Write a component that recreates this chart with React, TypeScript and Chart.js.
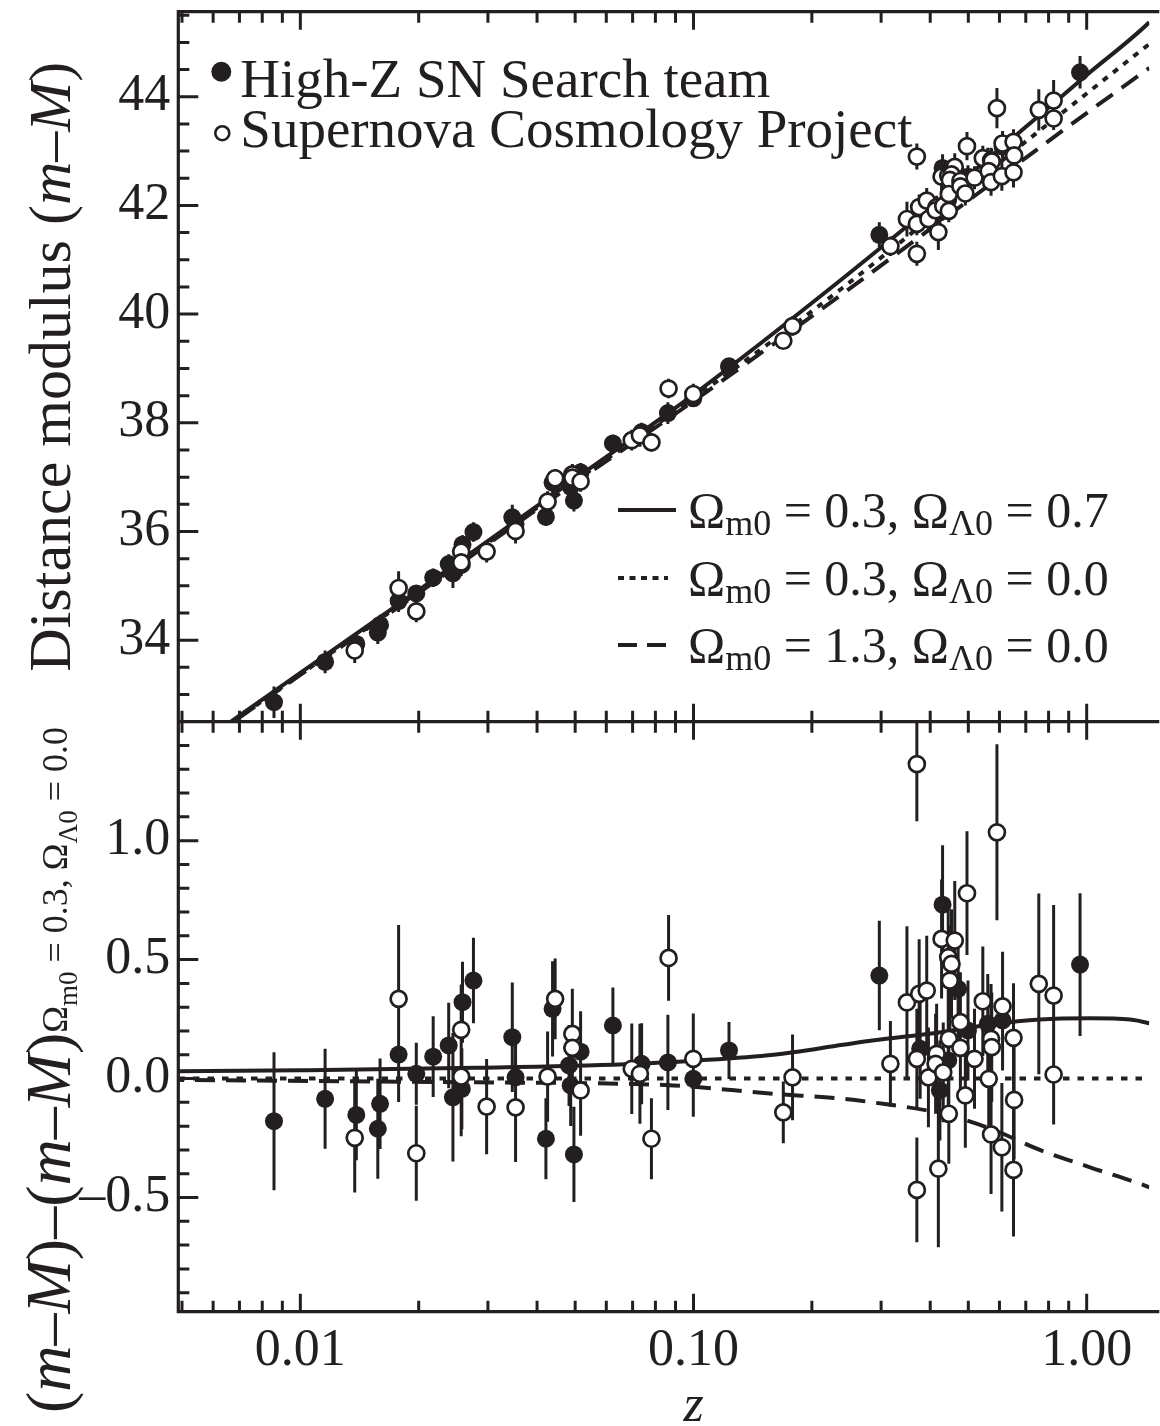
import React, { useEffect, useRef } from 'react';
import { Chart, registerables } from 'chart.js';

Chart.register(...registerables);

const INK = '#231f20';
const SERIF = '"Liberation Serif", "Times New Roman", Times, serif';

// ---------- axes ----------
const X_MIN = 0.004893;
const X_MAX = 1.443;
const X_TICKS = [0.01, 0.1, 1];
const X_TICK_LABELS = ['0.01', '0.10', '1.00'];
const X_MINOR_DECADES = [0.001, 0.01, 0.1, 1];

const TOP_MIN = 32.5;
const TOP_MAX = 45.565;
const TOP_TICKS = [34, 36, 38, 40, 42, 44];
const TOP_TICK_LABELS = ['34', '36', '38', '40', '42', '44'];
const TOP_MINOR_STEP = 0.5;

const BOT_MIN = -0.98;
const BOT_MAX = 1.5;
const BOT_TICKS = [-0.5, 0, 0.5, 1];
const BOT_TICK_LABELS = ['\u20130.5', '0.0', '0.5', '1.0'];
const BOT_MINOR_STEP = 0.1;

// ---------- model curves ----------
const TOP_CURVE_Z = [0.006, 0.01, 0.02, 0.05, 0.1, 0.24, 0.5, 0.707, 1.0, 1.443, 1.6];
const TOP_SOLID = [32.27, 33.4, 34.92, 36.97, 38.52, 40.66, 42.55, 43.47, 44.4, 45.37, 45.72];
const TOP_DOTTED = [32.25, 33.37, 34.89, 36.93, 38.45, 40.49, 42.33, 43.2, 44.06, 44.97, 45.22];
const TOP_DASHED = [32.24, 33.36, 34.87, 36.9, 38.4, 40.38, 42.09, 42.9, 43.7, 44.53, 44.77];

const BOT_SOLID_Z = [0.0045, 0.01, 0.028, 0.067, 0.1, 0.16, 0.24, 0.285, 0.43, 0.57, 0.76, 1.02, 1.29, 1.443, 1.6];
const BOT_SOLID = [0.03, 0.035, 0.045, 0.06, 0.075, 0.1, 0.142, 0.16, 0.196, 0.227, 0.248, 0.253, 0.248, 0.232, 0.21];
const BOT_DOTTED_Z = [0.0045, 1.6];
const BOT_DOTTED = [0, 0];
const BOT_DASHED_Z = [0.0045, 0.028, 0.067, 0.089, 0.16, 0.24, 0.285, 0.43, 0.57, 0.76, 1.02, 1.443, 1.6];
const BOT_DASHED = [-0.005, -0.016, -0.022, -0.029, -0.064, -0.085, -0.1, -0.148, -0.211, -0.3, -0.373, -0.457, -0.49];

// ---------- High-Z SN Search team (filled) ----------
const F_Z = [0.00857, 0.01156, 0.01388, 0.01595, 0.01574, 0.01778, 0.01972, 0.02177, 0.02384, 0.02444, 0.02585, 0.02575, 0.02756, 0.0346, 0.03527, 0.04213, 0.0438, 0.05162, 0.04824, 0.04871, 0.04964, 0.06237, 0.07379, 0.08607, 0.09988, 0.1231, 0.2969, 0.3771, 0.4233, 0.4445, 0.43, 0.471, 0.499, 0.5603, 0.611, 0.9619];
const F_MU = [32.86, 33.6, 33.93, 34.28, 34.14, 34.72, 34.86, 35.15, 35.4, 35.23, 35.76, 35.39, 35.99, 36.26, 36.14, 36.27, 36.9, 37.09, 36.88, 36.82, 36.57, 37.62, 37.83, 38.18, 38.45, 39.04, 41.46, 41.75, 41.87, 42.11, 42.69, 42.56, 42.53, 42.85, 43.08, 44.45];
const F_RES = [-0.179, -0.085, -0.153, -0.106, -0.211, 0.101, 0.02, 0.092, 0.139, -0.079, 0.321, -0.043, 0.412, 0.174, 0.005, -0.253, 0.293, 0.113, 0.055, -0.029, -0.319, 0.223, 0.062, 0.068, -0.001, 0.118, 0.433, 0.125, -0.05, 0.076, 0.731, 0.377, 0.202, 0.23, 0.244, 0.479];
const F_ERR = [0.29, 0.21, 0.19, 0.19, 0.21, 0.2, 0.13, 0.17, 0.18, 0.27, 0.17, 0.17, 0.18, 0.23, 0.17, 0.17, 0.2, 0.17, 0.17, 0.17, 0.2, 0.16, 0.17, 0.2, 0.16, 0.12, 0.23, 0.21, 0.21, 0.21, 0.25, 0.21, 0.21, 0.21, 0.21, 0.3];

// ---------- Supernova Cosmology Project (open) ----------
const O_Z = [0.01375, 0.01778, 0.01972, 0.02565, 0.02565, 0.02977, 0.03527, 0.04255, 0.04447, 0.04918, 0.04918, 0.05162, 0.06965, 0.07306, 0.07816, 0.08641, 0.09988, 0.1786, 0.1692, 0.3699, 0.5912, 0.4961, 0.4275, 0.4618, 0.4445, 0.4531, 0.4487, 0.7555, 0.824, 0.349, 0.3749, 0.3919, 0.3168, 0.3699, 0.3958, 0.4153, 0.4128, 0.4317, 0.446, 0.446, 0.4195, 0.3699, 0.4773, 0.4773, 0.4913, 0.5185, 0.5443, 0.5712, 0.5735, 0.5635, 0.5712, 0.611, 0.6515, 0.6538, 0.6085, 0.6515, 0.824];
const O_MU = [33.81, 34.96, 34.53, 35.63, 35.43, 35.63, 36.01, 36.55, 36.98, 37.05, 36.99, 36.92, 37.68, 37.77, 37.64, 38.63, 38.53, 39.78, 39.51, 42.9, 43.79, 43.09, 42.53, 42.71, 42.55, 42.57, 42.47, 43.76, 43.93, 41.75, 41.97, 42.09, 41.25, 41.66, 41.75, 41.97, 41.91, 41.99, 42.21, 41.9, 41.51, 41.11, 42.45, 42.35, 42.22, 42.51, 42.87, 42.83, 42.81, 42.63, 42.43, 43.14, 43.17, 42.92, 42.54, 42.61, 43.6];
const O_RES = [-0.249, 0.335, -0.314, 0.205, 0.008, -0.118, -0.121, 0.008, 0.335, 0.188, 0.129, -0.05, 0.041, 0.02, -0.253, 0.507, 0.083, 0.005, -0.142, 1.322, 1.035, 0.779, 0.587, 0.58, 0.51, 0.482, 0.412, 0.398, 0.349, 0.32, 0.356, 0.37, 0.062, 0.083, 0.005, 0.104, 0.062, 0.026, 0.167, -0.148, -0.379, -0.468, 0.237, 0.129, -0.071, 0.083, 0.325, 0.167, 0.132, -0.001, -0.235, 0.303, 0.171, -0.09, -0.289, -0.384, 0.017];
const O_ERR = [0.23, 0.31, 0.2, 0.19, 0.25, 0.2, 0.23, 0.19, 0.17, 0.19, 0.19, 0.19, 0.19, 0.21, 0.17, 0.18, 0.19, 0.18, 0.13, 0.24, 0.37, 0.26, 0.25, 0.25, 0.23, 0.23, 0.23, 0.38, 0.38, 0.32, 0.23, 0.23, 0.18, 0.21, 0.21, 0.21, 0.21, 0.21, 0.21, 0.21, 0.33, 0.22, 0.21, 0.21, 0.22, 0.21, 0.23, 0.23, 0.23, 0.23, 0.25, 0.23, 0.23, 0.25, 0.27, 0.28, 0.21];

// ---------- legend texts ----------
const TEAM_LABELS = ['High-Z SN Search team', 'Supernova Cosmology Project'];
const MODEL_OM = ['0.3', '0.3', '1.3'];
const MODEL_OL = ['0.7', '0.0', '0.0'];
const MODEL_DASH = [[], [6, 5.5], [19, 10]];

const pts = (zs: number[], ys: number[]) => zs.map((z, i) => ({ x: z, y: ys[i] }));

type Seg = { t: string; size: number; italic?: boolean; dy?: number };
function segWidth(ctx: CanvasRenderingContext2D, segs: Seg[]) {
  let w = 0;
  for (const s of segs) {
    ctx.font = `${s.italic ? 'italic ' : ''}${s.size}px ${SERIF}`;
    w += ctx.measureText(s.t).width;
  }
  return w;
}
function drawSegs(ctx: CanvasRenderingContext2D, segs: Seg[], x: number, y: number) {
  for (const s of segs) {
    ctx.font = `${s.italic ? 'italic ' : ''}${s.size}px ${SERIF}`;
    ctx.fillText(s.t, x, y + (s.dy || 0));
    x += ctx.measureText(s.t).width;
  }
  return x;
}

const errorBarPlugin = {
  id: 'errorBars',
  beforeDatasetsDraw(chart: any) {
    const { ctx } = chart;
    const xs = chart.scales.x;
    const panels = [
      { ys: chart.scales.yTop, groups: [[F_Z, F_MU, F_ERR], [O_Z, O_MU, O_ERR]] },
      { ys: chart.scales.yBot, groups: [[F_Z, F_RES, F_ERR], [O_Z, O_RES, O_ERR]] },
    ];
    ctx.save();
    ctx.strokeStyle = INK;
    ctx.lineWidth = 3;
    for (const p of panels) {
      ctx.save();
      ctx.beginPath();
      ctx.rect(xs.left, p.ys.top, xs.right - xs.left, p.ys.bottom - p.ys.top);
      ctx.clip();
      ctx.beginPath();
      for (const [zs, vs, es] of p.groups) {
        zs.forEach((z: number, i: number) => {
          const px = xs.getPixelForValue(z);
          ctx.moveTo(px, p.ys.getPixelForValue(vs[i] + es[i]));
          ctx.lineTo(px, p.ys.getPixelForValue(vs[i] - es[i]));
        });
      }
      ctx.stroke();
      ctx.restore();
    }
    ctx.restore();
  },
};

const frameTicksPlugin = {
  id: 'frameTicks',
  afterDatasetsDraw(chart: any) {
    const { ctx } = chart;
    const xs = chart.scales.x;
    const yT = chart.scales.yTop;
    const yB = chart.scales.yBot;
    const left = xs.left;
    const right = xs.right + 10;
    const top = yT.top;
    const mid = yT.bottom;
    const bottom = yB.bottom;
    ctx.save();
    ctx.strokeStyle = INK;
    ctx.lineCap = 'butt';
    ctx.lineWidth = 3.2;
    ctx.beginPath();
    ctx.moveTo(right, top);
    ctx.lineTo(left, top);
    ctx.lineTo(left, bottom);
    ctx.lineTo(right, bottom);
    ctx.moveTo(left, mid);
    ctx.lineTo(right, mid);
    ctx.stroke();

    ctx.lineWidth = 3;
    ctx.beginPath();
    for (const dec of X_MINOR_DECADES) {
      for (let m = 1; m <= 9; m++) {
        const v = m * dec;
        if (v <= xs.min || v > xs.max) continue;
        const px = xs.getPixelForValue(v);
        const len = m === 1 ? 18 : 11;
        ctx.moveTo(px, top);
        ctx.lineTo(px, top + len);
        ctx.moveTo(px, mid - len);
        ctx.lineTo(px, mid + len);
        ctx.moveTo(px, bottom);
        ctx.lineTo(px, bottom - len);
      }
    }
    const yTicks = (sc: any, step: number, majors: number[]) => {
      const n0 = Math.ceil(sc.min / step - 1e-9);
      const n1 = Math.floor(sc.max / step + 1e-9);
      for (let n = n0; n <= n1; n++) {
        const v = +(n * step).toFixed(4);
        const py = sc.getPixelForValue(v);
        if (Math.abs(py - sc.top) < 3 || Math.abs(py - sc.bottom) < 3) continue;
        const len = majors.some((t) => Math.abs(t - v) < 1e-6) ? 20 : 11;
        ctx.moveTo(left, py);
        ctx.lineTo(left + len, py);
      }
    };
    yTicks(yT, TOP_MINOR_STEP, TOP_TICKS);
    yTicks(yB, BOT_MINOR_STEP, BOT_TICKS);
    ctx.stroke();
    ctx.restore();
  },
};

const annotationPlugin = {
  id: 'annotations',
  afterDraw(chart: any) {
    const { ctx } = chart;
    const xs = chart.scales.x;
    const yT = chart.scales.yTop;
    const left = xs.left;
    ctx.save();
    ctx.fillStyle = INK;
    ctx.strokeStyle = INK;
    ctx.textAlign = 'left';
    ctx.textBaseline = 'alphabetic';

    // team legend (top-left)
    const lx = left + 43;
    ctx.beginPath();
    ctx.arc(left + 43, yT.top + 60, 10, 0, Math.PI * 2);
    ctx.fill();
    ctx.beginPath();
    ctx.lineWidth = 2.6;
    ctx.arc(left + 44, yT.top + 121.5, 7, 0, Math.PI * 2);
    ctx.stroke();
    ctx.font = `55px ${SERIF}`;
    ctx.fillText(TEAM_LABELS[0], lx + 19, yT.top + 85);
    ctx.fillText(TEAM_LABELS[1], lx + 19, yT.top + 135);

    // model legend (lower right of top panel)
    const baseY = [yT.bottom - 194.7, yT.bottom - 126.7, yT.bottom - 59.7];
    for (let i = 0; i < 3; i++) {
      const by = baseY[i];
      ctx.save();
      ctx.lineWidth = 4;
      ctx.lineCap = 'butt';
      ctx.setLineDash(MODEL_DASH[i]);
      ctx.beginPath();
      ctx.moveTo(618, by - 17);
      ctx.lineTo(i === 0 ? 676 : 668, by - 17);
      ctx.stroke();
      ctx.restore();
      drawSegs(ctx, [
        { t: '\u03A9', size: 50 },
        { t: 'm0', size: 36, dy: 8 },
        { t: ` = ${MODEL_OM[i]}, \u03A9`, size: 50 },
        { t: '\u039B0', size: 36, dy: 8 },
        { t: ` = ${MODEL_OL[i]}`, size: 50 },
      ], 688, by);
    }

    // x title
    ctx.textAlign = 'center';
    ctx.font = `italic 52px ${SERIF}`;
    ctx.fillText('z', xs.getPixelForValue(0.1), 1421);
    ctx.textAlign = 'left';

    // y title, top panel
    const topTitle: Seg[] = [
      { t: 'Distance modulus (', size: 60 },
      { t: 'm', size: 60, italic: true },
      { t: '\u2013', size: 60 },
      { t: 'M', size: 60, italic: true },
      { t: ')', size: 60 },
    ];
    const wTop = segWidth(ctx, topTitle);
    const cTop = (yT.top + yT.bottom) / 2;
    ctx.save();
    ctx.translate(70, cTop + wTop / 2);
    ctx.rotate(-Math.PI / 2);
    drawSegs(ctx, topTitle, 0, 0);
    ctx.restore();

    // y title, bottom panel
    const botTitle: Seg[] = [
      { t: '(', size: 64 },
      { t: 'm', size: 64, italic: true },
      { t: '\u2013', size: 64 },
      { t: 'M', size: 64, italic: true },
      { t: ')\u2013(', size: 64 },
      { t: 'm', size: 64, italic: true },
      { t: '\u2013', size: 64 },
      { t: 'M', size: 64, italic: true },
      { t: ')', size: 64 },
      { t: '\u03A9', size: 36, dy: -3 },
      { t: 'm0', size: 27, dy: 7 },
      { t: ' = 0.3, \u03A9', size: 36, dy: -3 },
      { t: '\u039B0', size: 27, dy: 7 },
      { t: ' = 0.0', size: 36, dy: -3 },
    ];
    ctx.save();
    ctx.translate(70, 1413);
    ctx.rotate(-Math.PI / 2);
    drawSegs(ctx, botTitle, 0, 0);
    ctx.restore();

    ctx.restore();
  },
};

export default function App() {
  const ref = useRef<HTMLCanvasElement>(null);

  useEffect(() => {
    const canvas = ref.current;
    if (!canvas) return;
    Chart.defaults.font.family = SERIF;
    Chart.defaults.color = INK;

    const line = (data: any[], yAxisID: string, dash: number[], order: number) => ({
      type: 'line' as const,
      data,
      yAxisID,
      xAxisID: 'x',
      borderColor: INK,
      borderWidth: 4,
      borderDash: dash,
      borderCapStyle: 'butt' as const,
      pointRadius: 0,
      fill: false,
      cubicInterpolationMode: 'monotone' as const,
      clip: 0,
      order,
    });
    const filled = (data: any[], yAxisID: string) => ({
      type: 'scatter' as const,
      data,
      yAxisID,
      xAxisID: 'x',
      pointRadius: 9,
      pointBackgroundColor: INK,
      pointBorderColor: INK,
      pointBorderWidth: 0,
      clip: 0,
      order: 2,
    });
    const open = (data: any[], yAxisID: string) => ({
      type: 'scatter' as const,
      data,
      yAxisID,
      xAxisID: 'x',
      pointRadius: 8,
      pointBackgroundColor: '#ffffff',
      pointBorderColor: INK,
      pointBorderWidth: 2.7,
      clip: 0,
      order: 1,
    });

    const fitY = (s: any) => {
      s.width = 178.3;
      s.paddingTop = 0;
      s.paddingBottom = 0;
      s.paddingLeft = 0;
      s.paddingRight = 0;
    };

    const chart = new Chart(canvas, {
      type: 'scatter',
      data: {
        datasets: [
          line(pts(TOP_CURVE_Z, TOP_SOLID), 'yTop', [], 5),
          line(pts(TOP_CURVE_Z, TOP_DOTTED), 'yTop', [6, 7], 5),
          line(pts(TOP_CURVE_Z, TOP_DASHED), 'yTop', [20, 11], 5),
          line(pts(BOT_SOLID_Z, BOT_SOLID), 'yBot', [], 5),
          line(pts(BOT_DOTTED_Z, BOT_DOTTED), 'yBot', [6.5, 8], 5),
          line(pts(BOT_DASHED_Z, BOT_DASHED), 'yBot', [20, 11], 5),
          filled(pts(F_Z, F_MU), 'yTop'),
          open(pts(O_Z, O_MU), 'yTop'),
          filled(pts(F_Z, F_RES), 'yBot'),
          open(pts(O_Z, O_RES), 'yBot'),
        ] as any,
      },
      options: {
        animation: false,
        responsive: false,
        maintainAspectRatio: false,
        devicePixelRatio: 1,
        events: [],
        layout: { padding: { top: 11.7, left: 0, right: 0, bottom: 0 } },
        plugins: { legend: { display: false }, tooltip: { enabled: false }, title: { display: false } },
        scales: {
          x: {
            type: 'logarithmic',
            position: 'bottom',
            min: X_MIN,
            max: X_MAX,
            grid: { display: false, drawTicks: false },
            border: { display: false },
            afterBuildTicks: (s: any) => {
              s.ticks = X_TICKS.map((v) => ({ value: v }));
            },
            afterFit: (s: any) => {
              s.height = 114.3;
              s.paddingLeft = 0;
              s.paddingRight = 0;
              s.paddingTop = 0;
              s.paddingBottom = 0;
            },
            ticks: {
              autoSkip: false,
              maxRotation: 0,
              minRotation: 0,
              padding: 8,
              color: INK,
              font: { family: SERIF, size: 52 },
              callback: (_v: any, i: number) => X_TICK_LABELS[i],
            },
          },
          yBot: {
            type: 'linear',
            position: 'left',
            stack: 'panels',
            stackWeight: 590,
            min: BOT_MIN,
            max: BOT_MAX,
            grid: { display: false, drawTicks: false },
            border: { display: false },
            afterBuildTicks: (s: any) => {
              s.ticks = BOT_TICKS.map((v) => ({ value: v }));
            },
            afterFit: fitY,
            ticks: {
              autoSkip: false,
              padding: 8,
              color: INK,
              font: { family: SERIF, size: 52 },
              callback: (_v: any, i: number) => BOT_TICK_LABELS[i],
            },
          },
          yTop: {
            type: 'linear',
            position: 'left',
            stack: 'panels',
            stackWeight: 710,
            min: TOP_MIN,
            max: TOP_MAX,
            grid: { display: false, drawTicks: false },
            border: { display: false },
            afterBuildTicks: (s: any) => {
              s.ticks = TOP_TICKS.map((v) => ({ value: v }));
            },
            afterFit: fitY,
            ticks: {
              autoSkip: false,
              padding: 8,
              color: INK,
              font: { family: SERIF, size: 52 },
              callback: (_v: any, i: number) => TOP_TICK_LABELS[i],
            },
          },
        },
      } as any,
      plugins: [errorBarPlugin, frameTicksPlugin, annotationPlugin],
    });
    return () => chart.destroy();
  }, []);

  return (
    <div
      style={{
        position: 'fixed',
        left: 0,
        top: 0,
        width: 1160,
        height: 1426,
        overflow: 'hidden',
        background: '#ffffff',
      }}
    >
      <canvas ref={ref} width={1160} height={1426} style={{ display: 'block', width: 1160, height: 1426 }} />
    </div>
  );
}
